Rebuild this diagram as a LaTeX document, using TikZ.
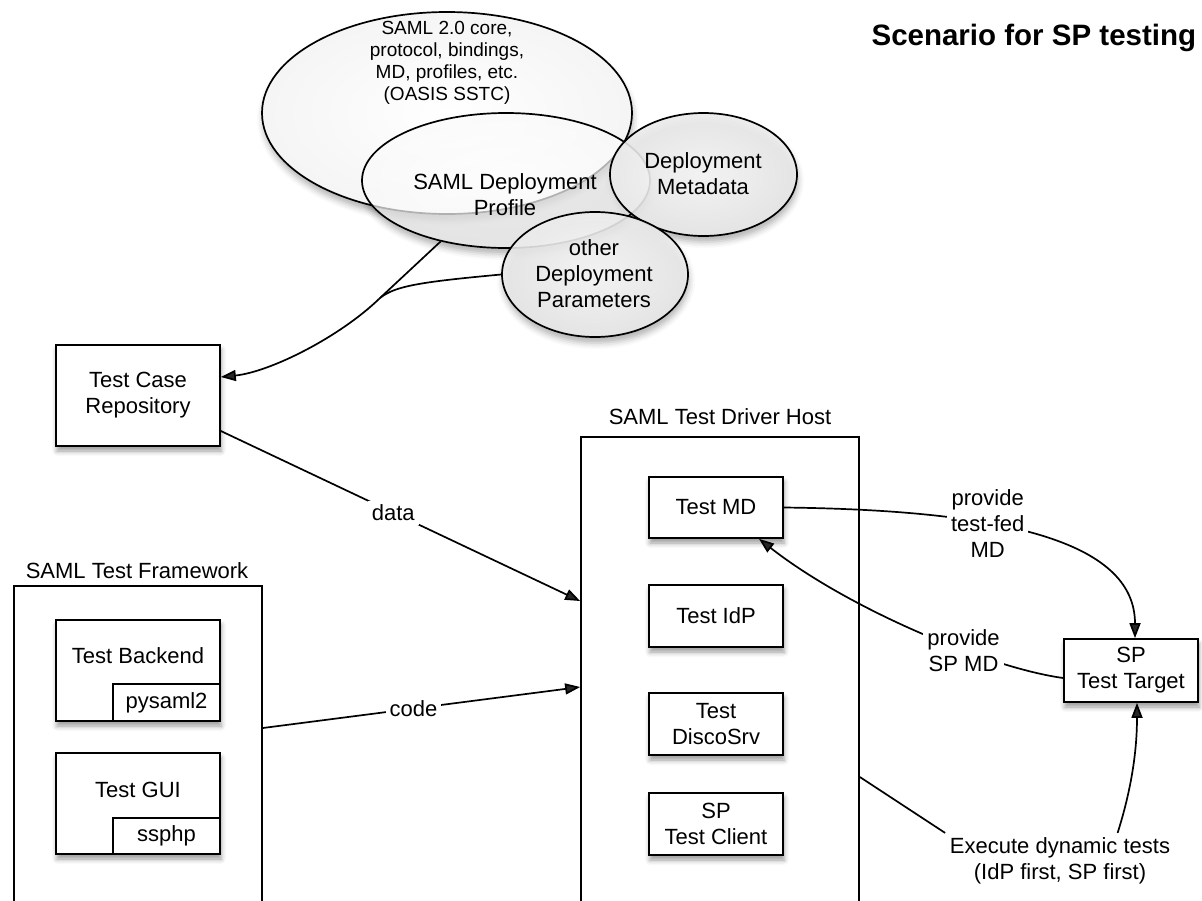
\documentclass[tikz,border=0pt]{standalone}
\usepackage{fontspec}
\setmainfont{Liberation Sans}
\usetikzlibrary{arrows.meta,shapes.geometric,shadows.blur}
\begin{document}
\begin{tikzpicture}[x=1pt,y=-1pt,line width=1.7pt,
  txt/.style={font=\fontsize{22}{26}\selectfont, align=center, inner sep=0pt},
  smalltxt/.style={font=\fontsize{19}{22}\selectfont, align=center, inner sep=0pt},
  lbl/.style={font=\fontsize{22}{26}\selectfont, align=center, fill=white, inner sep=4pt},
  shad/.style={blur shadow={shadow xshift=1pt, shadow yshift=-5pt, shadow blur radius=5pt, shadow opacity=40}},
  eshad/.style={blur shadow={shadow xshift=1pt, shadow yshift=-6pt, shadow blur radius=6pt, shadow opacity=30}},
  box/.style={draw, rectangle, fill=white, inner sep=0pt, shad, font=\fontsize{22}{26}\selectfont, align=center},
  subbox/.style={draw, rectangle, fill=white, inner sep=0pt, font=\fontsize{22}{26}\selectfont},
  cont/.style={draw, rectangle, inner sep=0pt},
  ell/.style={draw, ellipse, inner sep=0pt},
  arr/.style={-{Triangle[length=15pt,width=11pt]}}
]
\useasboundingbox (0,0) rectangle (1202,900);
\clip (0,0) rectangle (1202,900);

% ---- ellipse shadows
\path[eshad] (447,113) ellipse [x radius=185, y radius=101];
\path[eshad] (506,180.5) ellipse [x radius=144, y radius=67.5];
\path[eshad] (703.5,174.5) ellipse [x radius=93.5, y radius=61.5];
\path[eshad] (595,274.5) ellipse [x radius=93, y radius=62.5];

% ---- ellipses
\node[ell, minimum width=370, minimum height=202, shading=radial, inner color=white, outer color=gray!8] (core) at (447,113) {};
\node[ell, minimum width=288, minimum height=135, shading=radial, inner color=white, outer color=gray!4, fill opacity=0.7] (prof) at (506,180.5) {};
\node[ell, minimum width=187, minimum height=123, shading=radial, inner color=gray!3, outer color=gray!15, fill opacity=0.88] (dm) at (703.5,174.5) {};
\node[ell, minimum width=186, minimum height=125, shading=radial, inner color=gray!3, outer color=gray!15, fill opacity=0.88] (odp) at (595,274.5) {};

\node[smalltxt] (coretxt) at (447,63) {SAML 2.0 core,\\protocol, bindings,\\MD, profiles, etc.\\(OASIS SSTC)};
\node[txt] (proftxt) at (505,195) {SAML Deployment\\Profile};
\node[txt] (dmtxt) at (703,174) {Deployment\\Metadata};
\node[txt] (odptxt) at (594,274) {other\\Deployment\\Parameters};

% ---- title
\node[font=\fontsize{29.5}{34}\selectfont\bfseries, inner sep=0pt, anchor=base east] (title) at (1197,45) {Scenario for SP testing};

% ---- left side
\node[box, minimum width=164, minimum height=101] (tcr) at (138,395.5) {Test Case\\Repository};

\node[cont, minimum width=248, minimum height=334] (fw) at (138,753) {};
\node[txt] (fwlbl) at (137,571) {SAML Test Framework};
\node[box, minimum width=164, minimum height=101] (tb) at (138,670.5) {};
\node[subbox, minimum width=107, minimum height=37] (pys) at (166.5,702.5) {pysaml2};
\node[txt] (tbtxt) at (138,656) {Test Backend};
\node[box, minimum width=164, minimum height=101] (tg) at (138,803.5) {};
\node[subbox, minimum width=107, minimum height=36] (ssp) at (166.5,836) {ssphp};
\node[txt] (tgtxt) at (138,790) {Test GUI};

% ---- host
\node[cont, minimum width=278, minimum height=483] (host) at (720,678.5) {};
\node[txt] (hostlbl) at (720,417) {SAML Test Driver Host};
\node[box, minimum width=134, minimum height=61] (tmd) at (716,507.5) {Test MD};
\node[box, minimum width=134, minimum height=62] (tidp) at (716,616) {Test IdP};
\node[box, minimum width=134, minimum height=62] (tds) at (716,724) {Test\\DiscoSrv};
\node[box, minimum width=134, minimum height=62] (sptc) at (716,824) {SP\\Test Client};

\node[box, minimum width=134, minimum height=63] (sptt) at (1131,670.5) {SP\\Test Target};

% ---- connectors
\coordinate (merge) at (380,298);
\draw[arr] (prof.-137) -- (merge) .. controls (340,337) and (270,372) .. ([yshift=18.5pt]tcr.east);
\draw (odp.west) .. controls (420,282) and (395,286) .. (merge);

\draw[arr] ([yshift=-35.5pt]tcr.east) -- ([yshift=77.5pt]host.west) node[lbl,pos=0.48] (datalbl) {data};
\draw[arr] ([yshift=25pt]fw.east) -- ([yshift=-8.5pt]host.west) node[lbl,pos=0.475] (codelbl) {code};

\draw[arr] (tmd.east) .. controls (1000,510) and (1135,540) .. ([xshift=4pt]sptt.north) node[lbl,pos=0.37] (fedlbl) {provide\\test-fed\\MD};
\draw[arr] ([yshift=-7.5pt]sptt.west) .. controls (990,668) and (850,610) .. ([xshift=43pt]tmd.south) node[lbl,pos=0.36] (spmdlbl) {provide\\SP MD};

\node[lbl] (exec) at (1060,861) {Execute dynamic tests\\(IdP first, SP first)};
\draw ([yshift=-98.5pt]host.east) -- (exec.north west);
\draw[arr] (exec.26) .. controls (1128,800) and (1137,760) .. ([xshift=6pt]sptt.south);
\end{tikzpicture}
\end{document}
